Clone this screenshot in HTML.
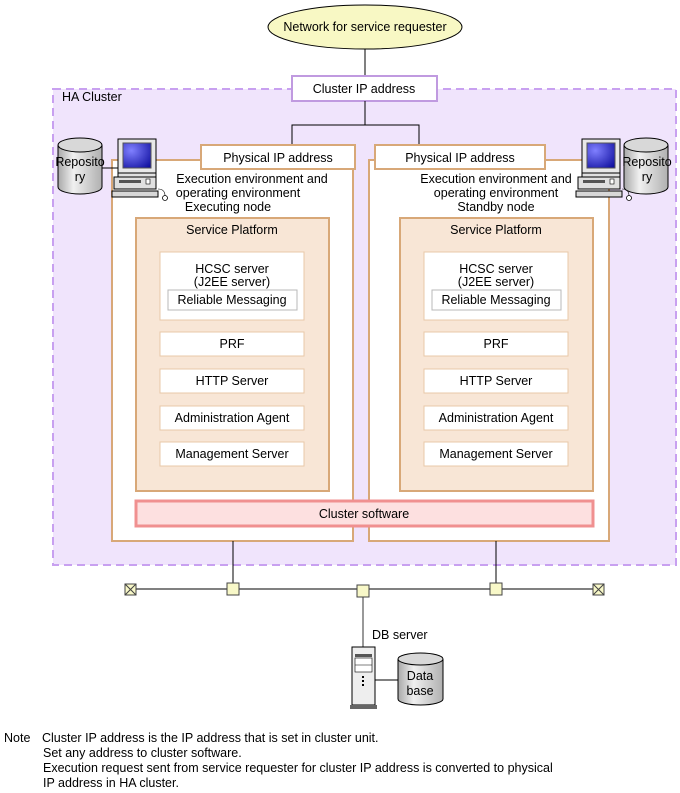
<!DOCTYPE html>
<html><head><meta charset="utf-8"><style>
html,body{margin:0;padding:0;background:#fff;}
svg{display:block;font-family:"Liberation Sans",Arial,sans-serif;}
</style></head><body>
<svg width="680" height="793" viewBox="0 0 680 793" xmlns="http://www.w3.org/2000/svg" font-size="12.5">
<defs>
<linearGradient id="cyl" x1="0" x2="1" y1="0" y2="0">
<stop offset="0" stop-color="#a8a8a8"/><stop offset="0.35" stop-color="#f0f0f0"/><stop offset="1" stop-color="#b0b0b0"/>
</linearGradient>
<radialGradient id="scr" cx="0.3" cy="0.3" r="0.9"><stop offset="0" stop-color="#8080ff"/><stop offset="1" stop-color="#1010a0"/></radialGradient>
<g id="pc">
<rect x="6" y="0" width="38" height="34" fill="#e8e8e8" stroke="#000"/>
<rect x="11" y="4" width="28" height="25" fill="url(#scr)" stroke="#555"/>
<rect x="6" y="34" width="38" height="4" fill="#e0e0e0" stroke="#000"/>
<rect x="2" y="38" width="42" height="12" fill="#e0e0e0" stroke="#000"/>
<rect x="7" y="41" width="22" height="3" fill="#555"/>
<rect x="34" y="40" width="4" height="5" fill="#fff" stroke="#000" stroke-width="0.6"/>
<rect x="0" y="52" width="46" height="6" fill="#d8d8d8" stroke="#000"/>
<circle cx="53" cy="59" r="2.5" fill="#fff" stroke="#000" stroke-width="0.8"/>
<path d="M46 50 Q53 50 53 57" fill="none" stroke="#000" stroke-width="0.6"/>
</g>
<g id="cyl44">
<path d="M0 7 L0 49 A22 7 0 0 0 44 49 L44 7" fill="url(#cyl)" stroke="#000"/>
<ellipse cx="22" cy="7" rx="22" ry="7" fill="#d8d8d8" stroke="#000"/>
</g>
</defs>

<ellipse cx="365" cy="27" rx="97" ry="22" fill="#f8f8c4" stroke="#000"/>
<text x="365" y="31" text-anchor="middle">Network for service requester</text>
<line x1="365" y1="49" x2="365" y2="76" stroke="#000"/>

<rect x="53" y="89" width="623" height="476" fill="#f0e4fc" stroke="#c8a0f0" stroke-width="2" stroke-dasharray="8,5"/>
<text x="62" y="101">HA Cluster</text>

<rect x="292" y="76" width="145" height="25" fill="#fff" stroke="#c09ae0" stroke-width="2"/>
<text x="364" y="93" text-anchor="middle">Cluster IP address</text>

<polyline points="365,101 365,125 292,125 292,145" fill="none" stroke="#000"/>
<polyline points="365,125 419,125 419,145" fill="none" stroke="#000"/>

<rect x="112" y="160" width="241" height="381" fill="#fff" stroke="#d8a878" stroke-width="2"/>
<rect x="201" y="145" width="154" height="24" fill="#fff" stroke="#d8a878" stroke-width="2"/>
<text x="278" y="162" text-anchor="middle">Physical IP address</text>
<text x="252" y="183" text-anchor="middle">Execution environment and</text>
<text x="238" y="197" text-anchor="middle">operating environment</text>
<text x="228" y="211" text-anchor="middle">Executing node</text>

<rect x="369" y="160" width="240" height="381" fill="#fff" stroke="#d8a878" stroke-width="2"/>
<rect x="375" y="145" width="170" height="24" fill="#fff" stroke="#d8a878" stroke-width="2"/>
<text x="460" y="162" text-anchor="middle">Physical IP address</text>
<text x="496" y="183" text-anchor="middle">Execution environment and</text>
<text x="496" y="197" text-anchor="middle">operating environment</text>
<text x="496" y="211" text-anchor="middle">Standby node</text>

<g id="sp">
<rect x="136" y="218" width="193" height="273" fill="#f8e6d6" stroke="#d8a878" stroke-width="2"/>
<text x="232" y="234" text-anchor="middle">Service Platform</text>
<rect x="160" y="252" width="144" height="68" fill="#fff" stroke="#e8c8a8"/>
<text x="232" y="273" text-anchor="middle">HCSC server</text>
<text x="232" y="286" text-anchor="middle">(J2EE server)</text>
<rect x="168" y="290" width="129" height="20" fill="#fff" stroke="#b8b8b8"/>
<text x="232" y="304" text-anchor="middle">Reliable Messaging</text>
<rect x="160" y="332" width="144" height="24" fill="#fff" stroke="#e8c8a8"/>
<text x="232" y="348" text-anchor="middle">PRF</text>
<rect x="160" y="369" width="144" height="24" fill="#fff" stroke="#e8c8a8"/>
<text x="232" y="385" text-anchor="middle">HTTP Server</text>
<rect x="160" y="406" width="144" height="24" fill="#fff" stroke="#e8c8a8"/>
<text x="232" y="422" text-anchor="middle">Administration Agent</text>
<rect x="160" y="442" width="144" height="24" fill="#fff" stroke="#e8c8a8"/>
<text x="232" y="458" text-anchor="middle">Management Server</text>
</g>
<use href="#sp" x="264" y="0"/>

<rect x="136" y="501" width="457" height="25" fill="#fde0e0" stroke="#f09090" stroke-width="3"/>
<text x="364" y="518" text-anchor="middle">Cluster software</text>

<line x1="100" y1="168" x2="120" y2="168" stroke="#000"/>
<use href="#cyl44" x="58" y="138"/>
<text x="80" y="166" text-anchor="middle">Reposito</text>
<text x="80" y="181" text-anchor="middle">ry</text>
<use href="#pc" x="112" y="139"/>

<use href="#pc" x="576" y="139"/>
<use href="#cyl44" x="624" y="138"/>
<text x="647" y="166" text-anchor="middle">Reposito</text>
<text x="647" y="181" text-anchor="middle">ry</text>

<line x1="233" y1="541" x2="233" y2="585" stroke="#000"/>
<line x1="496" y1="541" x2="496" y2="585" stroke="#000"/>
<line x1="130" y1="589" x2="598" y2="589" stroke="#000"/>
<line x1="363" y1="595" x2="363" y2="648" stroke="#777" stroke-width="1.5"/>
<g fill="#f8f8c8" stroke="#444">
<rect x="227" y="583" width="12" height="12"/>
<rect x="357" y="585" width="12" height="12"/>
<rect x="490" y="583" width="12" height="12"/>
</g>
<g stroke="#444" fill="#f8f8c8">
<rect x="125" y="584" width="11" height="11"/>
<path d="M125 584 L136 595 M136 584 L125 595" fill="none"/>
<rect x="593" y="584" width="11" height="11"/>
<path d="M593 584 L604 595 M604 584 L593 595" fill="none"/>
</g>

<text x="372" y="639">DB server</text>
<rect x="352" y="647" width="23" height="58" fill="#eee" stroke="#000"/>
<rect x="355" y="654" width="17" height="3" fill="#555"/>
<rect x="355" y="658" width="17" height="14" fill="#fff" stroke="#000" stroke-width="0.6"/>
<line x1="355" y1="665" x2="372" y2="665" stroke="#000" stroke-width="0.6"/>
<rect x="362" y="676" width="2" height="2" fill="#000"/>
<rect x="362" y="680" width="2" height="2" fill="#000"/>
<rect x="362" y="684" width="2" height="2" fill="#000"/>
<rect x="350" y="705" width="27" height="4" fill="#666"/>
<line x1="375" y1="680" x2="398" y2="680" stroke="#000"/>
<path d="M398 659 L398 699 A22.5 6 0 0 0 443 699 L443 659" fill="url(#cyl)" stroke="#000"/>
<ellipse cx="420.5" cy="659" rx="22.5" ry="6" fill="#d8d8d8" stroke="#000"/>
<text x="420" y="680" text-anchor="middle">Data</text>
<text x="420" y="695" text-anchor="middle">base</text>

<g font-size="12.5">
<text x="4" y="742">Note</text>
<text x="42" y="742">Cluster IP address is the IP address that is set in cluster unit.</text>
<text x="43" y="757">Set any address to cluster software.</text>
<text x="43" y="772">Execution request sent from service requester for cluster IP address is converted to physical</text>
<text x="43" y="787">IP address in HA cluster.</text>
</g>
</svg>
</body></html>
